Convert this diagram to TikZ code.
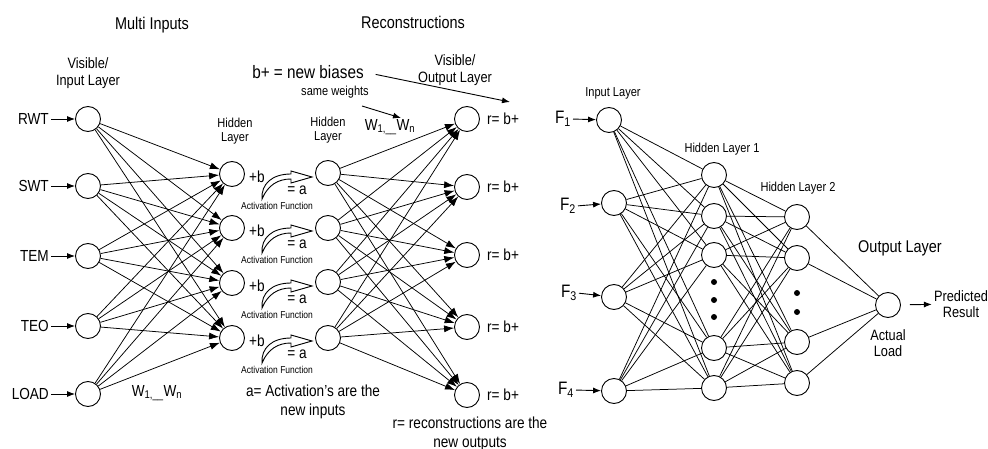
\documentclass[tikz,border=0pt]{standalone}
\usepackage{fontspec}
\setmainfont[FakeStretch=0.85]{Liberation Sans}
\usetikzlibrary{arrows.meta}
\begin{document}
\begin{tikzpicture}[x=1pt,y=-1pt,
  neuron/.style={circle,draw,line width=0.9pt,minimum size=25pt,inner sep=0pt,fill=white},
  lbl/.style={inner sep=0pt,align=center},
  conn/.style={line width=0.75pt},
  aconn/.style={line width=0.75pt,-{Latex[length=10pt,width=7pt]}},
  ptr/.style={line width=0.9pt,-{Latex[length=8pt,width=6pt]}},
  dotn/.style={circle,fill,inner sep=0pt,minimum size=6pt},
  tx10/.style={font=\fontsize{10}{11}\selectfont},
  tx13/.style={font=\fontsize{13}{14.5}\selectfont},
  tx15/.style={font=\fontsize{15}{16.5}\selectfont},
  tx16/.style={font=\fontsize{16}{18.5}\selectfont},
  tx17/.style={font=\fontsize{17}{19}\selectfont},
  tx18/.style={font=\fontsize{18}{20}\selectfont},
  actarrow/.pic={
    \draw[line width=0.9pt,fill=white] (30,25) .. controls (29,10) and (40,0) .. (59,0)
      -- (59,-3) -- (80,3) -- (59,9) -- (59,5) .. controls (46,5) and (36,11) .. (30,25) -- cycle;
  }
]
\useasboundingbox (0,0) rectangle (988,449);

% ---------- titles ----------
\node[lbl,tx17] (multi) at (152,25) {Multi Inputs};
\node[lbl,tx17] (recon) at (413,22) {Reconstructions};
\node[lbl,tx15] (visin) at (88,73) {Visible/\\Input Layer};
\node[lbl,tx13] (hl1) at (235,131) {Hidden\\Layer};
\node[lbl,tx13] (hl2) at (328,130) {Hidden\\Layer};
\node[lbl,tx15] (visout) at (455,70) {Visible/\\Output Layer};
\node[lbl,tx18] (biases) at (308,72) {b+ = new biases};
\node[lbl,tx13] (same) at (335,92) {same weights};
\node[lbl,tx16] (wtop) at (390,127) {W\textsubscript{1,\_\_}W\textsubscript{n}};
\coordinate (bend) at (510,102);
\coordinate (swstart) at (362,106);
\coordinate (swend) at (401,118);
\draw[ptr,shorten <=12pt] (biases.east) -- (bend);
\draw[ptr] (swstart) -- (swend);

% ---------- left network ----------
\foreach \y [count=\k] in {119,186,256,326,394}
  \node[neuron] (i\k) at (88,\y) {};
\foreach \y [count=\k] in {174,228,283,338}
  \node[neuron] (h\k) at (232,\y) {};
\foreach \y [count=\k] in {173,228,282,338}
  \node[neuron] (g\k) at (328,\y) {};
\foreach \y [count=\k] in {119,187,255,327,395}
  \node[neuron] (o\k) at (467,\y) {};

\foreach \t [count=\k] in {RWT,SWT,TEM,TEO,LOAD} {
  \node[lbl,tx16,anchor=east] (li\k) at (49,{\ifcase\k\or119\or186\or256\or326\or394\fi}) {\t};
  \draw[ptr,shorten <=2pt] (li\k) -- (i\k);
}

\foreach \a in {1,...,5}
  \foreach \b in {1,...,4}
    \draw[aconn] (i\a) -- (h\b);
\foreach \a in {1,...,4}
  \foreach \b in {1,...,5}
    \draw[aconn] (g\a) -- (o\b);

\node[lbl,tx16] (wbot) at (157,393) {W\textsubscript{1,\_\_}W\textsubscript{n}};

\foreach \k in {1,...,4} {
  \begin{scope}[shift={(h\k.center)}]
    \pic {actarrow};
    \node[lbl,tx16] (pb\k) at (25,3) {+b};
    \node[lbl,tx16] (ea\k) at (65,16) {= a};
    \node[lbl,tx10] (af\k) at (45,32) {Activation Function};
  \end{scope}
}

\foreach \k in {1,...,5}
  \node[lbl,tx16,anchor=west] (r\k) at (487,{\ifcase\k\or119\or187\or255\or327\or395\fi}) {r= b+};

\node[lbl,tx16] (ainfo) at (313,402) {a= Activation's are the\\new inputs};
\node[lbl,tx16] (rinfo) at (470,434) {r= reconstructions are the\\new outputs};

% ---------- right network ----------
\node[lbl,tx13] (inl) at (613,93) {Input Layer};
\node[lbl,tx13] (hr1) at (722,149) {Hidden Layer 1};
\node[lbl,tx13] (hr2) at (798,188) {Hidden Layer 2};
\node[lbl,tx17] (outl) at (900,248) {Output Layer};

\node[neuron] (f1) at (609,120) {};
\node[neuron] (f2) at (614,203) {};
\node[neuron] (f3) at (614,297) {};
\node[neuron] (f4) at (614,391) {};

\foreach \y [count=\k] in {175,216,255,348,388}
  \node[neuron] (p\k) at (714,\y) {};
\foreach \y [count=\k] in {217,258,342,383}
  \node[neuron] (q\k) at (797,\y) {};
\node[neuron] (out) at (888,305) {};

\foreach \y [count=\k] in {282,300,317}
  \node[dotn] (pd\k) at (714,\y) {};
\foreach \y [count=\k] in {293,312}
  \node[dotn] (qd\k) at (797,\y) {};

\node[lbl,tx18,anchor=east] (lf1) at (571,119) {F\textsubscript{1}};
\node[lbl,tx18,anchor=east] (lf2) at (576,206) {F\textsubscript{2}};
\node[lbl,tx18,anchor=east] (lf3) at (577,293) {F\textsubscript{3}};
\node[lbl,tx18,anchor=east] (lf4) at (574,390) {F\textsubscript{4}};
\foreach \k in {1,...,4}
  \draw[ptr,shorten <=2pt] (lf\k.east) -- (f\k);

\foreach \a in {1,...,4}
  \foreach \b in {1,...,5}
    \draw[conn] (f\a) -- (p\b);
\foreach \a in {1,...,5}
  \foreach \b in {1,...,4}
    \draw[conn] (p\a) -- (q\b);
\foreach \a in {1,...,4}
  \draw[conn] (q\a) -- (out);

\node[lbl,tx15] (actl) at (888,343) {Actual\\Load};
\node[lbl,tx15] (pred) at (961,304) {Predicted\\Result};
\draw[ptr,shorten <=9pt,shorten >=2pt] (out) -- (pred);
\end{tikzpicture}
\end{document}
